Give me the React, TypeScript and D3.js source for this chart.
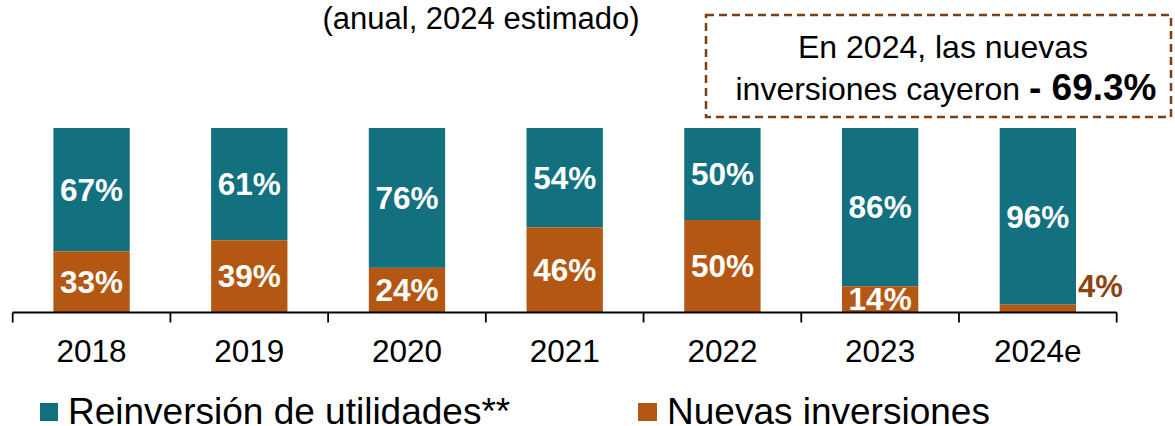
import React from "react";
import * as d3 from "d3";

const categories = ["2018", "2019", "2020", "2021", "2022", "2023", "2024e"];
const reinversion = [67, 61, 76, 54, 50, 86, 96];
const nuevas = [33, 39, 24, 46, 50, 14, 4];
const seriesNames = ["Reinversión de utilidades**", "Nuevas inversiones"];
const subtitle = "(anual, 2024 estimado)";
const noteLine1 = "En 2024, las nuevas";
const noteLine2 = "inversiones cayeron ";
const noteBold = "- 69.3%";

const TEAL = "#13707f";
const ORANGE = "#b45712";
const BROWN = "#8a4513";
const FONT = "'Liberation Sans', Arial, sans-serif";

export default function App() {
  const W = 1175, H = 426;
  const x = d3.scaleBand<string>().domain(categories).range([12.7, 1116.7]).paddingInner(0.516).paddingOuter(0.258);
  const y = d3.scaleLinear().domain([0, 100]).range([312, 128]);
  const step = x.step();
  const x0 = 12.7;
  const axisY = 312.5;

  return (
    <svg width={W} height={H} style={{ position: "absolute", left: 0, top: 0 }} fontFamily={FONT}>
      <rect width={W} height={H} fill="#fff" />
      <text x={481} y={29} textAnchor="middle" fontSize={31} fill="#000">{subtitle}</text>

      {/* note box */}
      <rect x={706} y={15} width={465} height={102} fill="none" stroke="#7b3f12" strokeWidth={2.5} strokeDasharray="8,5" />
      <text x={943} y={58} textAnchor="middle" fontSize={32} fill="#000">{noteLine1}</text>
      <text x={946} y={100} textAnchor="middle" fontSize={32} fill="#000">
        {noteLine2}
        <tspan fontWeight="bold" fontSize={37}>{noteBold}</tspan>
      </text>

      {categories.map((c, i) => {
        const bx = x(c)!;
        const bw = x.bandwidth();
        const n = nuevas[i];
        const r = reinversion[i];
        const yN = y(n);
        const yR = y(n + r);
        const cx = bx + bw / 2;
        return (
          <g key={c}>
            <rect x={bx} y={yR} width={bw} height={yN - yR} fill={TEAL} />
            <rect x={bx} y={yN} width={bw} height={y(0) - yN} fill={ORANGE} />
            <text x={cx} y={(yR + yN) / 2} dy="0.36em" textAnchor="middle" fontSize={31.5} fontWeight="bold" fill="#fff">{r}%</text>
            {n >= 10 ? (
              <text x={cx} y={(yN + y(0)) / 2} dy="0.36em" textAnchor="middle" fontSize={31.5} fontWeight="bold" fill="#fff">{n}%</text>
            ) : (
              <text x={bx + bw + 2} y={297} fontSize={31} fontWeight="bold" fill={BROWN}>{n}%</text>
            )}
            <text x={cx} y={362} textAnchor="middle" fontSize={31.5} fill="#000">{c}</text>
          </g>
        );
      })}

      {/* axis */}
      <line x1={x0} x2={x0 + step * categories.length} y1={axisY} y2={axisY} stroke="#000" strokeWidth={1.8} />
      {d3.range(categories.length + 1).map((i) => (
        <line key={i} x1={x0 + i * step} x2={x0 + i * step} y1={axisY} y2={axisY + 10} stroke="#000" strokeWidth={1.8} />
      ))}

      {/* legend */}
      <rect x={40} y={403} width={18} height={18} fill={TEAL} />
      <text x={68} y={424} fontSize={37} fill="#000">{seriesNames[0]}</text>
      <rect x={638} y={403} width={19} height={18} fill={ORANGE} />
      <text x={667} y={424} fontSize={37} fill="#000">{seriesNames[1]}</text>
    </svg>
  );
}
